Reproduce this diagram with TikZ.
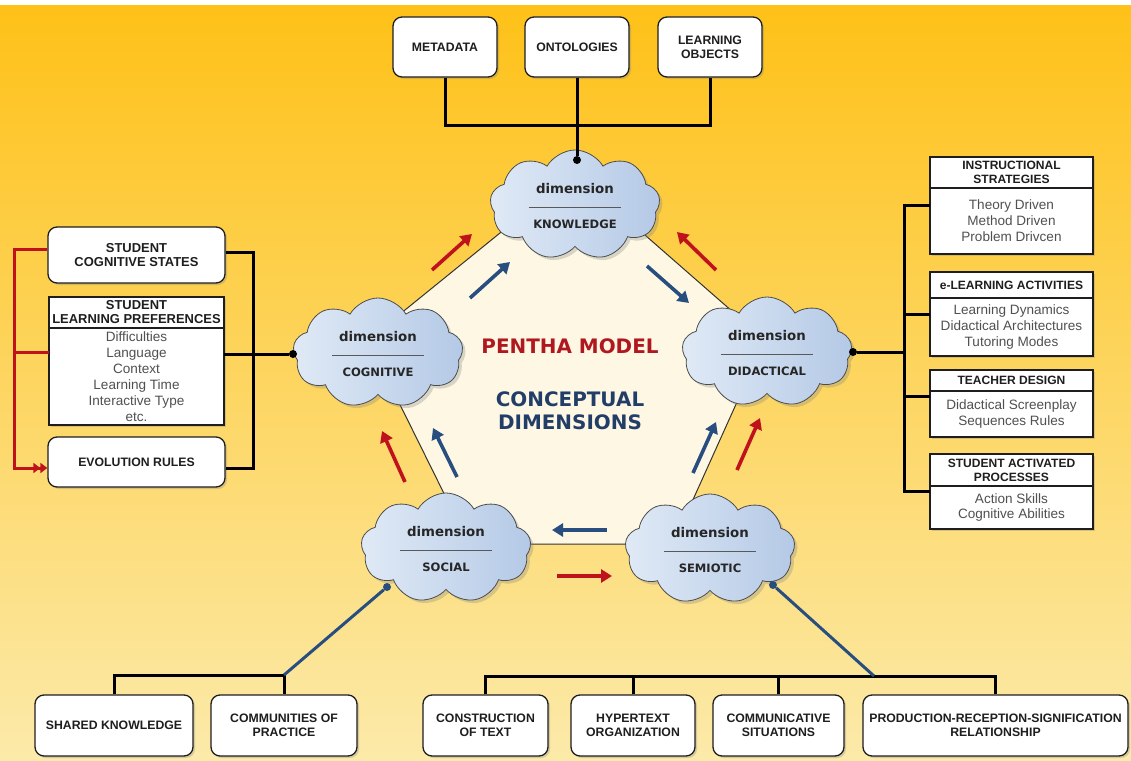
\documentclass[tikz,border=0pt]{standalone}
\usepackage{fontspec}
\setmainfont{Liberation Sans}
\newfontfamily\dimfont{DejaVu Sans}
\usepackage{tikz}
\usetikzlibrary{shapes.symbols, shadows, arrows.meta, positioning, calc}

\definecolor{bgtop}{RGB}{254,193,24}
\definecolor{bgmid}{RGB}{253,214,96}
\definecolor{bgbot}{RGB}{252,234,170}
\definecolor{penta}{RGB}{253,247,228}
\definecolor{cloudlt}{RGB}{224,234,246}
\definecolor{clouddk}{RGB}{180,201,230}
\definecolor{penred}{RGB}{176,24,32}
\definecolor{pennavy}{RGB}{34,62,104}
\definecolor{arrred}{RGB}{192,18,28}
\definecolor{arrblue}{RGB}{40,78,128}
\definecolor{itemgrey}{RGB}{80,80,80}
\definecolor{boxline}{RGB}{30,30,30}

\tikzset{
  boxshadow/.style={drop shadow={shadow xshift=2bp, shadow yshift=-2bp, opacity=0.3}},
  roundbox/.style={draw=boxline, line width=1.3bp, fill=white, rounded corners=9bp, boxshadow,
    align=center, font=\bfseries\fontsize{12.3}{14}\selectfont, text=boxline, inner sep=2bp},
  headbox/.style={draw=boxline, line width=1.2bp, fill=white, boxshadow, outer sep=0pt,
    align=center, font=\bfseries\fontsize{12.1}{14}\selectfont, text=boxline, inner sep=2bp},
  itembox/.style={draw=boxline, line width=1.2bp, fill=white, boxshadow, outer sep=0pt,
    align=center, font=\fontsize{13.6}{16}\selectfont, text=itemgrey, inner sep=2bp},
  bigtext/.style={font=\bfseries\fontsize{13}{14}\selectfont},
  dimcloud/.style={cloud, cloud puffs=9, cloud puff arc=120, aspect=1.5, cloud ignores aspect,
    draw=black!70, line width=0.8bp, left color=cloudlt, right color=clouddk,
    minimum width=170bp, minimum height=110bp, inner sep=0pt,
    drop shadow={shadow xshift=3bp, shadow yshift=-3bp, opacity=0.3}},
  dimword/.style={font=\dimfont\bfseries\fontsize{13.4}{15}\selectfont, text=black!85, inner sep=0pt},
  dimname/.style={font=\dimfont\bfseries\fontsize{11.6}{13}\selectfont, text=black!85, inner sep=0pt},
  dimrule/.style={draw=black!65, line width=0.9bp},
  link/.style={draw=black, line width=3bp},
  bluelink/.style={draw=arrblue, line width=3bp},
  redlink/.style={draw=arrred, line width=3bp},
  dot/.style={circle, fill=black, inner sep=0pt, minimum size=8bp},
  flow/.style={line width=3.6bp, -{Triangle[length=11bp, width=13bp]}},
  titletext/.style={font=\dimfont\bfseries\fontsize{20}{23}\selectfont, align=center},
}

% cloud with "dimension", a rule and the dimension name
\newcommand\dimcloud[3]{%
  \node[dimcloud] (#1) at (#2) {};
  \node[dimword] (#1-w) at ([yshift=16bp]#1.center) {dimension};
  \draw[dimrule] ([xshift=-46bp,yshift=-2bp]#1.center) -- ([xshift=46bp,yshift=-2bp]#1.center);
  \node[dimname] (#1-n) at ([yshift=-19bp]#1.center) {#3};
}

\begin{document}
\begin{tikzpicture}[x=1bp, y=-1bp]
    \useasboundingbox (0,0) rectangle (1131,761);
    \fill[white] (0,0) rectangle (1131,761);
    \shade[top color=bgtop, middle color=bgmid, bottom color=bgbot] (0,6) rectangle (1131,761);

    % pentagon
    \coordinate (pk) at (574,173);
    \coordinate (pd) at (765,340);
    \coordinate (pm) at (673,544);
    \coordinate (ps) at (469,544);
    \coordinate (pc) at (368,340);
    \draw[fill=penta, draw=black!80, line width=1bp] (pk) -- (pd) -- (pm) -- (ps) -- (pc) -- cycle;

    % flows between the dimensions
    \draw[flow, arrred] (432,270) -- (472,234);
    \draw[flow, arrblue] (470,298) -- (510,262);
    \draw[flow, arrblue] (647,266) -- (689,303);
    \draw[flow, arrred] (716,270) -- (677,232);
    \draw[flow, arrred] (405,482) -- (382,431);
    \draw[flow, arrblue] (457,477) -- (433,428);
    \draw[flow, arrblue] (693,473) -- (716,422);
    \draw[flow, arrred] (737,470) -- (760,418);
    \draw[flow, arrblue] (607,530) -- (552,530);
    \draw[flow, arrred] (557,576) -- (612,576);

    % clouds
    \dimcloud{know}{575,205}{KNOWLEDGE}
    \dimcloud{cogn}{378,353}{COGNITIVE}
    \dimcloud{dida}{767,352}{DIDACTICAL}
    \dimcloud{soci}{446,548}{SOCIAL}
    \dimcloud{semi}{710,549}{SEMIOTIC}

    \node[titletext, text=penred] (ttl) at (570,346) {PENTHA MODEL};
    \node[titletext, text=pennavy] (sub) at (570,410.5) {CONCEPTUAL\\DIMENSIONS};

    \node[dot] (kdot) at (577,160) {};
    \node[dot] (cdot) at (293,354) {};
    \node[dot] (ddot) at (853,352) {};
    \node[dot, fill=arrblue] (sdot) at (387,587) {};
    \node[dot, fill=arrblue] (mdot) at (773,585) {};

    % knowledge
    \node[roundbox, minimum width=104bp, minimum height=60bp] (meta) at (445,47) {METADATA};
    \node[roundbox, minimum width=104bp, minimum height=60bp] (onto) at (577,47) {ONTOLOGIES};
    \node[roundbox, minimum width=104bp, minimum height=60bp] (lobj) at (710,47) {LEARNING\\OBJECTS};
    \coordinate (kbar) at (577,125);
    \draw[link] (meta.south) |- (kbar) -| (lobj.south);
    \draw[link] (onto.south) -- (kdot);

    % cognitive
    \node[roundbox, bigtext, minimum width=177bp, minimum height=56bp] (cogst) at (136.5,255) {STUDENT\\COGNITIVE STATES};
    \node[headbox, bigtext, minimum width=175bp, minimum height=31bp] (lpref) at (136.5,312.5) {STUDENT\\LEARNING PREFERENCES};
    \node[itembox, minimum width=175bp, minimum height=97bp, below=0pt of lpref] (lprefb)
        {Difficulties\\Language\\Context\\Learning Time\\Interactive Type\\etc.};
    \node[roundbox, minimum width=177bp, minimum height=50bp] (evol) at (136.5,462) {EVOLUTION RULES};
    \coordinate (rtop) at (14,249);
    \coordinate (rmid) at (14,352);
    \coordinate (ltop) at (253,252);
    \draw[redlink, -{Triangle[length=7bp, width=10bp]Triangle[length=7bp, width=10bp]}]
        (cogst.west |- rtop) -- (rtop) |- ([yshift=-6bp]evol.west);
    \draw[redlink] (rmid) -- (rmid -| lprefb.west);
    \draw[link] (cogst.east |- ltop) -- (ltop) |- ([yshift=-6bp]evol.east);
    \draw[link] (cdot -| lprefb.east) -- (cdot);

    % didactical
    \node[headbox, minimum width=163bp, minimum height=31bp] (istr) at (1011.5,172.5) {INSTRUCTIONAL\\STRATEGIES};
    \node[itembox, minimum width=163bp, minimum height=66bp, below=0pt of istr] (istrb)
        {Theory Driven\\Method Driven\\Problem Drivcen};
    \node[headbox, minimum width=163bp, minimum height=26bp] (elrn) at (1011.5,285) {e-LEARNING ACTIVITIES};
    \node[itembox, minimum width=163bp, minimum height=58bp, below=0pt of elrn] (elrnb)
        {Learning Dynamics\\Didactical Architectures\\Tutoring Modes};
    \node[headbox, minimum width=163bp, minimum height=21bp] (tdes) at (1011.5,380.5) {TEACHER DESIGN};
    \node[itembox, minimum width=163bp, minimum height=46bp, below=0pt of tdes] (tdesb)
        {Didactical Screenplay\\Sequences Rules};
    \node[headbox, minimum width=163bp, minimum height=32bp] (sact) at (1011.5,470) {STUDENT ACTIVATED\\PROCESSES};
    \node[itembox, minimum width=163bp, minimum height=43bp, below=0pt of sact] (sactb)
        {Action Skills\\Cognitive Abilities};
    \coordinate (dbar) at (904,352);
    \coordinate (im) at ($(istr.north west)!.5!(istrb.south west)$);
    \coordinate (em) at ($(elrn.north west)!.5!(elrnb.south west)$);
    \coordinate (tm) at ($(tdes.north west)!.4!(tdesb.south west)$);
    \coordinate (sm) at ($(sact.north west)!.5!(sactb.south west)$);
    \draw[link] (im) -- (im -| dbar) -- (sm -| dbar) -- (sm);
    \draw[link] (em) -- (em -| dbar);
    \draw[link] (tm) -- (tm -| dbar);
    \draw[link] (ddot) -- (dbar);

    % social
    \node[roundbox, minimum width=158bp, minimum height=61bp] (shk) at (114,725.5) {SHARED KNOWLEDGE};
    \node[roundbox, minimum width=146bp, minimum height=61bp] (cop) at (284,725.5) {COMMUNITIES OF\\PRACTICE};
    \coordinate (sbar) at (284,675);
    \draw[link] (shk.north) |- (sbar) -- (cop.north);
    \draw[bluelink] (sdot) -- (sbar);

    % semiotic
    \node[roundbox, minimum width=125bp, minimum height=61bp] (cot) at (485.5,725.5) {CONSTRUCTION\\OF TEXT};
    \node[roundbox, minimum width=124bp, minimum height=61bp] (hyp) at (633,725.5) {HYPERTEXT\\ORGANIZATION};
    \node[roundbox, minimum width=131bp, minimum height=61bp] (coms) at (778.5,725.5) {COMMUNICATIVE\\SITUATIONS};
    \node[roundbox, minimum width=265bp, minimum height=61bp] (prs) at (995.5,725.5) {PRODUCTION-RECEPTION-SIGNIFICATION\\RELATIONSHIP};
    \coordinate (mbar) at (874,676);
    \draw[link] (cot.north) |- (mbar) -| (prs.north);
    \draw[link] (hyp.north) -- (hyp.north |- mbar);
    \draw[link] (coms.north) -- (coms.north |- mbar);
    \draw[bluelink] (mdot) -- (mbar);
\end{tikzpicture}
\end{document}
